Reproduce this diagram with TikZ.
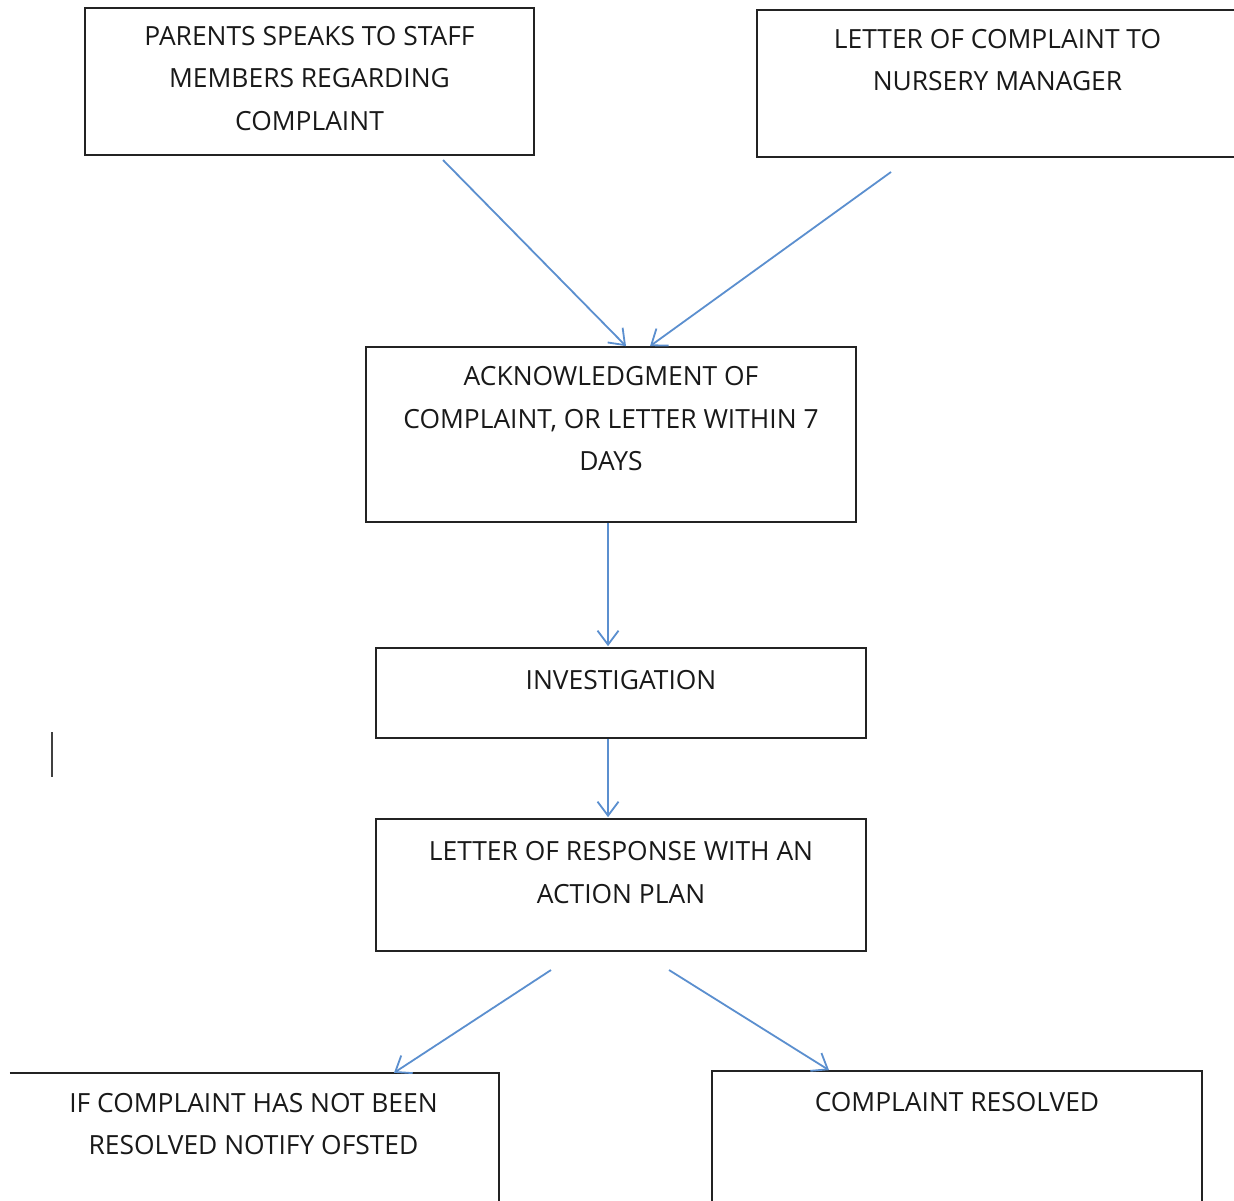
\documentclass[tikz,border=0pt]{standalone}
\usepackage{fontspec}
\setmainfont{Open Sans}
\usetikzlibrary{arrows.meta}
\definecolor{arrowblue}{RGB}{91,143,207}
\definecolor{boxline}{RGB}{35,35,35}
\tikzset{
  box/.style={draw=boxline, line width=1.7pt, rectangle, inner sep=0pt},
  nobox/.style={draw=none, rectangle, inner sep=0pt},
  boxtext/.style={anchor=north, inner sep=0pt, align=center, text=black!90,
    font=\fontsize{26.4}{42.5}\selectfont},
  flow/.style={draw=arrowblue, line width=1.8pt,
    -{Straight Barb[length=14pt,width=21pt,line width=1.8pt]}},
  cursorline/.style={draw=black!75, line width=2pt}
}
\begin{document}
\begin{tikzpicture}[x=1pt,y=-1pt]
\useasboundingbox (0,0) rectangle (1234,1200);
\clip (0,0) rectangle (1234,1200);
\fill[white] (0,0) rectangle (1234,1200);

% boxes
\node[box, minimum width=449pt, minimum height=147pt] (A) at (309.5,81.5) {};
\node[box, minimum width=481pt, minimum height=147pt] (B) at (997.5,83.5) {};
\node[box, minimum width=490pt, minimum height=175pt] (C) at (611,434.5) {};
\node[box, minimum width=490pt, minimum height=90pt] (D) at (621,693) {};
\node[box, minimum width=490pt, minimum height=132pt] (E) at (621,885) {};
\node[nobox, minimum width=491pt, minimum height=142pt] (F) at (253.5,1144) {};
\node[box, minimum width=490pt, minimum height=144pt] (G) at (957,1143) {};
\draw[draw=boxline, line width=1.7pt] ([xshift=2pt]F.north west) -- (F.north east) -- (F.south east);

% texts
\node[boxtext] (At) at ([yshift=-19pt]A.north) {PARENTS SPEAKS TO STAFF\\MEMBERS REGARDING\\COMPLAINT};
\node[boxtext] (Bt) at ([yshift=-20pt]B.north) {LETTER OF COMPLAINT TO\\NURSERY MANAGER};
\node[boxtext] (Ct) at ([yshift=-20pt]C.north) {ACKNOWLEDGMENT OF\\COMPLAINT, OR LETTER WITHIN 7\\DAYS};
\node[boxtext] (Dt) at ([yshift=-23pt]D.north) {INVESTIGATION};
\node[boxtext] (Et) at ([yshift=-23pt]E.north) {LETTER OF RESPONSE WITH AN\\ACTION PLAN};
\node[boxtext] (Ft) at ([yshift=-20pt]F.north) {IF COMPLAINT HAS NOT BEEN\\RESOLVED NOTIFY OFSTED};
\node[boxtext] (Gt) at ([yshift=-22pt]G.north) {COMPLAINT RESOLVED};

% free arrow starts
\coordinate (s1) at (443,160);
\coordinate (s2) at (891,172);
\coordinate (s5) at (551,970);
\coordinate (s6) at (669,970);

% connectors
\draw[flow] (s1) -- ([xshift=15pt]C.north);
\draw[flow] (s2) -- ([xshift=39pt]C.north);
\draw[flow] ([xshift=-3pt]C.south) -- ([xshift=-13pt,yshift=1pt]D.north);
\draw[flow] ([xshift=-13pt]D.south) -- ([xshift=-13pt,yshift=1pt]E.north);
\draw[flow] (s5) -- ([xshift=140.5pt]F.north);
\draw[flow] (s6) -- ([xshift=-128pt]G.north);

% text cursor
\draw[cursorline] (52,732) -- (52,777);
\end{tikzpicture}
\end{document}
